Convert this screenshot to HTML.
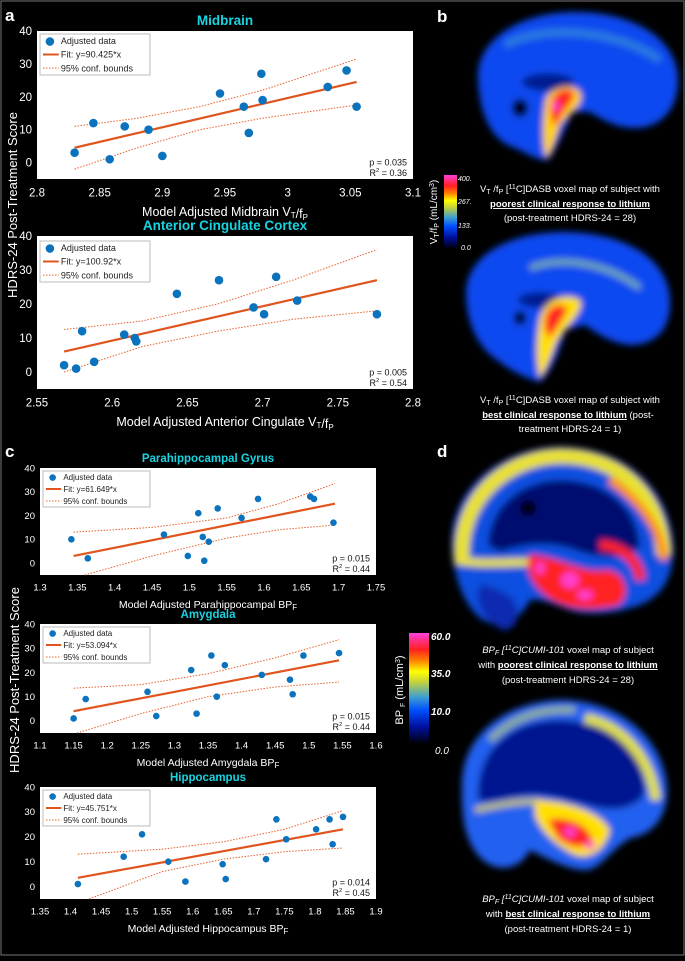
<!DOCTYPE html>
<html><head><meta charset="utf-8">
<style>
html,body{margin:0;padding:0;background:#000;}
body{width:685px;height:956px;overflow:hidden;position:relative;font-family:"Liberation Sans",Arial,sans-serif;}
svg text{font-family:"Liberation Sans",Arial,sans-serif;}
</style></head>
<body>
<svg id="fig" width="685" height="956" viewBox="0 0 685 956" xmlns="http://www.w3.org/2000/svg">
<defs>
<filter id="bl" x="-20%" y="-20%" width="140%" height="140%"><feGaussianBlur stdDeviation="3.5"/></filter>
<filter id="bl2" x="-30%" y="-30%" width="160%" height="160%"><feGaussianBlur stdDeviation="3"/></filter>
<linearGradient id="cbar" x1="0" y1="1" x2="0" y2="0">
<stop offset="0" stop-color="#000010"/><stop offset="0.15" stop-color="#0010a0"/><stop offset="0.3" stop-color="#0050ff"/><stop offset="0.42" stop-color="#40a0d0"/><stop offset="0.55" stop-color="#c0d040"/><stop offset="0.65" stop-color="#ffff00"/><stop offset="0.75" stop-color="#ff8000"/><stop offset="0.85" stop-color="#ff2020"/><stop offset="0.93" stop-color="#ff3080"/><stop offset="1" stop-color="#ff40e0"/>
</linearGradient>
</defs>
<rect x="0" y="0" width="685" height="956" fill="#000"/>
<rect x="1" y="1" width="683" height="954" fill="none" stroke="#777" stroke-width="1"/>
<g id="charts"></g>

<text x="5" y="21" fill="#fff" font-size="17" font-weight="bold">a</text>
<text x="437" y="22" fill="#fff" font-size="17" font-weight="bold">b</text>
<text x="5" y="457" fill="#fff" font-size="17" font-weight="bold">c</text>
<text x="437" y="457" fill="#fff" font-size="17" font-weight="bold">d</text>

<text transform="translate(17,205) rotate(-90)" text-anchor="middle" fill="#fff" font-size="13">HDRS-24 Post-Treatment Score</text>
<text transform="translate(19,680) rotate(-90)" text-anchor="middle" fill="#fff" font-size="13">HDRS-24 Post-Treatment Score</text>

<!-- Panel b: brain top -->
<g>
<g filter="url(#bl)">
<path d="M478,80 C475,40 520,12 575,12 C635,12 678,40 678,80 C678,110 660,128 635,128 C615,128 600,118 590,112 L572,112 C565,130 555,150 548,160 C535,160 525,152 515,148 C495,142 480,120 478,80 Z" fill="#0a48f0"/>
<path d="M505,45 C540,25 615,28 660,60" stroke="#2a7ae0" stroke-width="8" fill="none"/>
<ellipse cx="548" cy="82" rx="26" ry="9" fill="#001a90"/>
<ellipse cx="520" cy="108" rx="8" ry="9" fill="#000"/>
<path d="M546,98 C552,88 572,82 580,92 C585,104 570,112 560,125 C555,140 552,152 547,158 C542,150 542,120 546,98 Z" fill="#ffd000"/>
<path d="M552,100 C556,90 570,86 574,94 C572,104 562,110 556,126 C550,120 550,108 552,100 Z" fill="#ff2020"/>
<ellipse cx="556" cy="106" rx="3.5" ry="5" fill="#ff40d0"/>
</g>
</g>
<!-- Panel b: brain bottom -->
<g>
<g filter="url(#bl)">
<path d="M466,295 C465,255 510,232 565,232 C625,233 668,258 670,300 C671,330 655,345 630,345 C610,343 595,332 585,325 L565,330 C560,350 552,370 540,382 C525,378 510,370 500,362 C478,348 467,325 466,295 Z" fill="#0a48f0"/>
<path d="M530,268 C560,256 605,262 640,288" stroke="#70a8b0" stroke-width="6" fill="none"/>
<ellipse cx="540" cy="300" rx="22" ry="8" fill="#001a90"/>
<ellipse cx="520" cy="318" rx="6" ry="7" fill="#000"/>
<path d="M540,318 C545,300 565,292 580,300 C585,312 565,325 555,345 C550,360 545,372 540,378 C535,360 537,335 540,318 Z" fill="#ffe000"/>
<path d="M546,315 C550,305 562,302 567,308 C565,318 556,328 550,338 C544,332 544,322 546,315 Z" fill="#ff2020"/>
</g>
</g>
<g>
<rect x="444" y="175" width="13" height="73" fill="url(#cbar)"/>
<text x="458" y="181" fill="#fff" font-size="7" font-style="italic">400.</text>
<text x="458" y="204" fill="#fff" font-size="7" font-style="italic">267.</text>
<text x="458" y="228" fill="#fff" font-size="7" font-style="italic">133.</text>
<text x="461" y="250" fill="#fff" font-size="7" font-style="italic">0.0</text>
<text transform="translate(437,212) rotate(-90)" text-anchor="middle" fill="#fff" font-size="10">V<tspan font-size="7" dy="2">T</tspan><tspan dy="-2">/f</tspan><tspan font-size="7" dy="2">P</tspan><tspan dy="-2"> (mL/cm</tspan><tspan font-size="7" dy="-3">3</tspan><tspan dy="3">)</tspan></text>
</g>
<g fill="#fff" font-size="9.5" text-anchor="middle">
<text x="570" y="192">V<tspan font-size="7" dy="2">T</tspan><tspan dy="-2"> /f</tspan><tspan font-size="7" dy="2">P</tspan><tspan dy="-2"> [</tspan><tspan font-size="7" dy="-3">11</tspan><tspan dy="3">C]DASB voxel map of subject with</tspan></text>
<text x="570" y="207" font-weight="bold" text-decoration="underline">poorest clinical response to lithium</text>
<text x="570" y="221">(post-treatment HDRS-24 = 28)</text>
</g>
<g fill="#fff" font-size="9.5" text-anchor="middle">
<text x="570" y="403">V<tspan font-size="7" dy="2">T</tspan><tspan dy="-2"> /f</tspan><tspan font-size="7" dy="2">P</tspan><tspan dy="-2"> [</tspan><tspan font-size="7" dy="-3">11</tspan><tspan dy="3">C]DASB voxel map of subject with</tspan></text>
<text x="568" y="418"><tspan font-weight="bold" text-decoration="underline">best clinical response to lithium</tspan> (post-</text>
<text x="570" y="432">treatment HDRS-24 = 1)</text>
</g>

<!-- Panel d brains -->
<g>
<g filter="url(#bl)">
<path d="M452,545 C450,490 500,448 560,447 C625,447 672,490 673,550 C673,585 655,602 630,608 C610,614 585,615 570,610 C555,604 540,598 530,600 C520,620 500,632 480,618 C460,600 453,570 452,545 Z" fill="#1050e0"/>
<path d="M462,560 C458,505 500,458 560,456 C620,456 660,495 664,555" stroke="#e8e030" stroke-width="15" fill="none"/>
<path d="M610,480 C640,500 662,530 664,560" stroke="#ff9000" stroke-width="8" fill="none"/>
<path d="M488,545 C490,505 522,480 562,480 C605,481 636,505 640,545 C630,560 600,560 575,550 C548,540 520,545 500,552 Z" fill="#000e70"/>
<ellipse cx="528" cy="508" rx="8" ry="8" fill="#000"/>
<path d="M480,585 C472,600 485,625 505,630 C520,628 520,608 512,598 C500,590 490,585 480,585 Z" fill="#0a2ab0"/>
<path d="M455,560 C480,565 510,562 535,562" stroke="#e8e030" stroke-width="8" fill="none"/>
<path d="M530,555 C555,555 585,575 605,570 C625,570 632,595 618,605 C590,612 560,610 542,592 C530,580 524,565 530,555 Z" fill="#ff2020"/>
<path d="M600,545 C620,545 640,560 640,580" stroke="#ff2020" stroke-width="10" fill="none"/>
<ellipse cx="570" cy="580" rx="9" ry="8" fill="#ff40d0"/>
<ellipse cx="585" cy="595" rx="8" ry="5" fill="#ff40d0"/>
<ellipse cx="540" cy="568" rx="5" ry="6" fill="#ff40d0"/>
</g>
</g>
<g>
<g filter="url(#bl)">
<path d="M462,785 C462,735 505,702 560,700 C620,700 665,740 667,790 C667,820 650,835 630,838 C610,850 600,870 585,870 C570,870 550,860 530,850 C520,870 495,875 478,855 C462,835 462,810 462,785 Z" fill="#2060f0"/>
<path d="M478,790 C480,745 515,720 560,720 C610,722 645,750 645,792 C640,805 620,812 600,808 C575,803 555,795 535,795 C510,795 490,805 478,800 Z" fill="#001490"/>
<path d="M585,718 C620,725 650,755 656,800" stroke="#e0e040" stroke-width="10" fill="none"/>
<path d="M490,740 C515,715 545,708 575,710" stroke="#90b090" stroke-width="7" fill="none"/>
<path d="M475,810 C500,805 520,800 540,802" stroke="#c0c060" stroke-width="6" fill="none"/>
<path d="M535,800 C560,800 600,810 610,830 C605,850 590,860 575,855 C555,845 540,830 535,815 Z" fill="#ffe000"/>
<path d="M548,820 C565,815 590,825 592,840 C585,850 570,848 558,838 Z" fill="#ff2020"/>
<ellipse cx="570" cy="832" rx="6" ry="5" fill="#ff40d0"/>
<ellipse cx="590" cy="845" rx="5" ry="4" fill="#ff40d0"/>
</g>
</g>
<g>
<rect x="409" y="633" width="20" height="110" fill="url(#cbar)"/>
<text x="431" y="640" fill="#fff" font-size="10" font-weight="bold" font-style="italic">60.0</text>
<text x="431" y="677" fill="#fff" font-size="10" font-weight="bold" font-style="italic">35.0</text>
<text x="431" y="715" fill="#fff" font-size="10" font-weight="bold" font-style="italic">10.0</text>
<text x="435" y="754" fill="#fff" font-size="10" font-style="italic">0.0</text>
<text transform="translate(403,690) rotate(-90)" text-anchor="middle" fill="#fff" font-size="11">BP <tspan font-size="7" dy="2">F</tspan><tspan dy="-2"> (mL/cm</tspan><tspan font-size="7" dy="-3">3</tspan><tspan dy="3">)</tspan></text>
</g>
<g fill="#fff" font-size="9.5" text-anchor="middle">
<text x="568" y="653"><tspan font-style="italic">BP<tspan font-size="7" dy="2">F</tspan><tspan dy="-2"> [</tspan><tspan font-size="7" dy="-3">11</tspan><tspan dy="3">C]CUMI-101</tspan></tspan> voxel map of subject</text>
<text x="568" y="668">with <tspan font-weight="bold" text-decoration="underline">poorest clinical response to lithium</tspan></text>
<text x="568" y="683">(post-treatment HDRS-24 = 28)</text>
</g>
<g fill="#fff" font-size="9.5" text-anchor="middle">
<text x="568" y="902"><tspan font-style="italic">BP<tspan font-size="7" dy="2">F</tspan><tspan dy="-2"> [</tspan><tspan font-size="7" dy="-3">11</tspan><tspan dy="3">C]CUMI-101</tspan></tspan> voxel map of subject</text>
<text x="568" y="917">with <tspan font-weight="bold" text-decoration="underline">best clinical response to lithium</tspan></text>
<text x="568" y="932">(post-treatment HDRS-24 = 1)</text>
</g>
</svg>

<script>
const midX = [2.83,2.845,2.858,2.87,2.889,2.9,2.946,2.965,2.969,2.979,2.98,3.032,3.047,3.055];
const midY = [3,12,1,11,10,2,21,17,9,27,19,23,28,17];
const midFitX = [2.83,3.055], midFitY = [4.5,24.5];
const midBX = [2.83,2.88,2.93,2.98,3.055];
const midUp = [11,13.5,17,22,31.5], midLo = [-2,4.5,10,13.5,17.5];
const midTicks = ["2.8","2.85","2.9","2.95","3","3.05","3.1"];

const accX = [2.568,2.576,2.58,2.588,2.608,2.615,2.616,2.643,2.671,2.694,2.701,2.709,2.723,2.776];
const accY = [2,1,12,3,11,10,9,23,27,19,17,28,21,17];
const accFitX = [2.568,2.776], accFitY = [6,27];
const accBX = [2.568,2.62,2.67,2.72,2.776];
const accUp = [12.5,15,20,27,36], accLo = [0,7.5,12,15.5,18];
const accTicks = ["2.55","2.6","2.65","2.7","2.75","2.8"];

const phgX = [1.342,1.364,1.466,1.498,1.512,1.518,1.52,1.526,1.538,1.57,1.592,1.662,1.667,1.693];
const phgY = [10,2,12,3,21,11,1,9,23,19,27,28,27,17];
const phgFitX = [1.345,1.695], phgFitY = [3,25];
const phgBX = [1.345,1.45,1.55,1.62,1.695], phgUp = [13,15,19,25,33.5];
const phgLBX = [1.36,1.45,1.55,1.62,1.695], phgLo = [-5,3,10.5,14,16];
const phgTicks = ["1.3","1.35","1.4","1.45","1.5","1.55","1.6","1.65","1.7","1.75"];

const amyX = [1.15,1.168,1.26,1.273,1.325,1.333,1.355,1.363,1.375,1.43,1.472,1.476,1.492,1.545];
const amyY = [1,9,12,2,21,3,27,10,23,19,17,11,27,28];
const amyFitX = [1.15,1.545], amyFitY = [4,25];
const amyBX = [1.15,1.25,1.35,1.45,1.545], amyUp = [13.5,15,19.5,26,33.5];
const amyLBX = [1.155,1.25,1.35,1.45,1.545], amyLo = [-5,3,10,14,16];
const amyTicks = ["1.1","1.15","1.2","1.25","1.3","1.35","1.4","1.45","1.5","1.55","1.6"];

const hipX = [1.412,1.487,1.517,1.56,1.588,1.649,1.654,1.72,1.737,1.753,1.802,1.824,1.829,1.846];
const hipY = [1,12,21,10,2,9,3,11,27,19,23,27,17,28];
const hipFitX = [1.412,1.846], hipFitY = [3.5,23];
const hipBX = [1.412,1.55,1.65,1.75,1.846], hipUp = [13,15,18,23,30.5];
const hipLBX = [1.43,1.55,1.65,1.75,1.846], hipLo = [-5,6,11,14,15.5];
const hipTicks = ["1.35","1.4","1.45","1.5","1.55","1.6","1.65","1.7","1.75","1.8","1.85","1.9"];
const yTicks = [0,10,20,30,40];

const NS = "http://www.w3.org/2000/svg";
const root = document.getElementById('charts');
function mk(tag, attrs, parent){ const e=document.createElementNS(NS,tag); for(const k in attrs) e.setAttribute(k,attrs[k]); parent.appendChild(e); return e; }

function chart(o){
  const g = mk('g',{},root);
  
  
  const x0=o.box[0], x1=o.box[1], yt=o.box[2], yb=o.box[3];
  const xmin=parseFloat(o.ticks[0]), xmax=parseFloat(o.ticks[o.ticks.length-1]);
  const sx = v => x0 + (v-xmin)/(xmax-xmin)*(x1-x0);
  const sy = v => yb - (v+5)/45*(yb-yt);
  const bg = mk('rect',{x:x0,y:yt,width:x1-x0,height:yb-yt,fill:'#fff'},g);
  
  
  const fs=o.fs;
  const t = mk('text',{x:(x0+x1)/2,y:yt-6,'text-anchor':'middle',fill:'#19d3e0','font-size':fs+2,'font-weight':'bold'},g);
  t.textContent=o.title;
  
  
  yTicks.forEach(v=>{
    const tx = mk('text',{x:x0-5,y:sy(v)+fs*0.35,'text-anchor':'end',fill:'#fff','font-size':fs},g);
    tx.textContent=v;
    
    
  });
  o.ticks.forEach(s=>{
    const tx = mk('text',{x:sx(parseFloat(s)),y:yb+fs+6,'text-anchor':'middle',fill:'#fff','font-size':fs},g);
    tx.textContent=s;
    
    
  });
  const xl = mk('text',{x:(x0+x1)/2,y:yb+fs*2+14,'text-anchor':'middle',fill:'#fff','font-size':fs+1},g);
  xl.innerHTML=o.xlabel;
  
  
  function poly(xs,ys,nm){
    const pts = xs.map((v,i)=>sx(v).toFixed(1)+','+sy(ys[i]).toFixed(1));
    const p = mk('polyline',{points:pts.join(' '),fill:'none',stroke:'#e8602a','stroke-width':1,'stroke-dasharray':'1.5,1.5'},g);
    
    
  }
  poly(o.bx,o.up,o.name+'-upper-bound');
  poly(o.lbx||o.bx,o.lo,o.name+'-lower-bound');
  const fl = mk('line',{x1:sx(o.fx[0]),y1:sy(o.fy[0]),x2:sx(o.fx[1]),y2:sy(o.fy[1]),stroke:'#e0541d','stroke-width':2.2},g);
  
  
  o.xs.forEach((v,i)=>{
    const c = mk('circle',{cx:sx(v),cy:sy(o.ys[i]),r:o.r,fill:'#0b72bd'},g);
    
    
  });
  const lg = mk('g',{},g);
  
  
  const lx=x0+o.lg[0], ly=yt+o.lg[1], lw=o.lg[2], lh=o.lg[3];
  mk('rect',{x:lx,y:ly,width:lw,height:lh,fill:'#fff',stroke:'#bbb','stroke-width':1},lg);
  const rh=lh/3, lfs=o.lfs;
  mk('circle',{cx:lx+lw*0.09,cy:ly+rh*0.55,r:o.r,fill:'#0b72bd'},lg);
  mk('line',{x1:lx+3,y1:ly+rh*1.5,x2:lx+lw*0.17,y2:ly+rh*1.5,stroke:'#e0541d','stroke-width':2},lg);
  mk('line',{x1:lx+3,y1:ly+rh*2.5,x2:lx+lw*0.17,y2:ly+rh*2.5,stroke:'#e8602a','stroke-width':1,'stroke-dasharray':'1.5,1.5'},lg);
  const labels=['Adjusted data',o.fit,'95% conf. bounds'];
  labels.forEach((s,i)=>{
    const tx=mk('text',{x:lx+lw*0.19,y:ly+rh*(i+0.5)+lfs*0.35,fill:'#222','font-size':lfs},lg);
    tx.textContent=s;
    
    
  });
  const st = mk('text',{x:x1-6,y:yb-o.sfs*1.5,'text-anchor':'end',fill:'#111','font-size':o.sfs},g);
  st.textContent='p = '+o.p;
  
  
  const st2 = mk('text',{x:x1-6,y:yb-3,'text-anchor':'end',fill:'#111','font-size':o.sfs},g);
  st2.innerHTML='R<tspan font-size="'+(o.sfs*0.65)+'" dy="-4">2</tspan><tspan dy="4"> = '+o.r2+'</tspan>';
  
  
}
const sub = s=>'<tspan font-size="8" dy="2">'+s+'</tspan><tspan dy="-2"></tspan>';
chart({name:'midbrain',title:'Midbrain',box:[37,413,31,179],ticks:midTicks,xs:midX,ys:midY,fx:midFitX,fy:midFitY,bx:midBX,up:midUp,lo:midLo,fs:11.5,lfs:9,sfs:9,r:4.3,lg:[3,3,110,41],fit:'Fit: y=90.425*x',p:'0.035',r2:'0.36',xlabel:'Model Adjusted Midbrain V'+sub('T')+'/f'+sub('P')});
chart({name:'acc',title:'Anterior Cingulate Cortex',box:[37,413,236,389],ticks:accTicks,xs:accX,ys:accY,fx:accFitX,fy:accFitY,bx:accBX,up:accUp,lo:accLo,fs:11.5,lfs:9,sfs:9,r:4.3,lg:[3,5,110,41],fit:'Fit: y=100.92*x',p:'0.005',r2:'0.54',xlabel:'Model Adjusted Anterior Cingulate V'+sub('T')+'/f'+sub('P')});
chart({name:'parahippocampal',title:'Parahippocampal Gyrus',box:[40,376,468,575],ticks:phgTicks,xs:phgX,ys:phgY,fx:phgFitX,fy:phgFitY,bx:phgBX,up:phgUp,lbx:phgLBX,lo:phgLo,fs:9.5,lfs:8,sfs:9,r:3.3,lg:[3,3,107,36],fit:'Fit: y=61.649*x',p:'0.015',r2:'0.44',xlabel:'Model Adjusted Parahippocampal BP'+sub('F')});
chart({name:'amygdala',title:'Amygdala',box:[40,376,624,733],ticks:amyTicks,xs:amyX,ys:amyY,fx:amyFitX,fy:amyFitY,bx:amyBX,up:amyUp,lbx:amyLBX,lo:amyLo,fs:9.5,lfs:8,sfs:9,r:3.3,lg:[3,3,107,36],fit:'Fit: y=53.094*x',p:'0.015',r2:'0.44',xlabel:'Model Adjusted Amygdala BP'+sub('F')});
chart({name:'hippocampus',title:'Hippocampus',box:[40,376,787,899],ticks:hipTicks,xs:hipX,ys:hipY,fx:hipFitX,fy:hipFitY,bx:hipBX,up:hipUp,lbx:hipLBX,lo:hipLo,fs:9.5,lfs:8,sfs:9,r:3.3,lg:[3,3,107,36],fit:'Fit: y=45.751*x',p:'0.014',r2:'0.45',xlabel:'Model Adjusted Hippocampus BP'+sub('F')});
</script>
</body></html>
